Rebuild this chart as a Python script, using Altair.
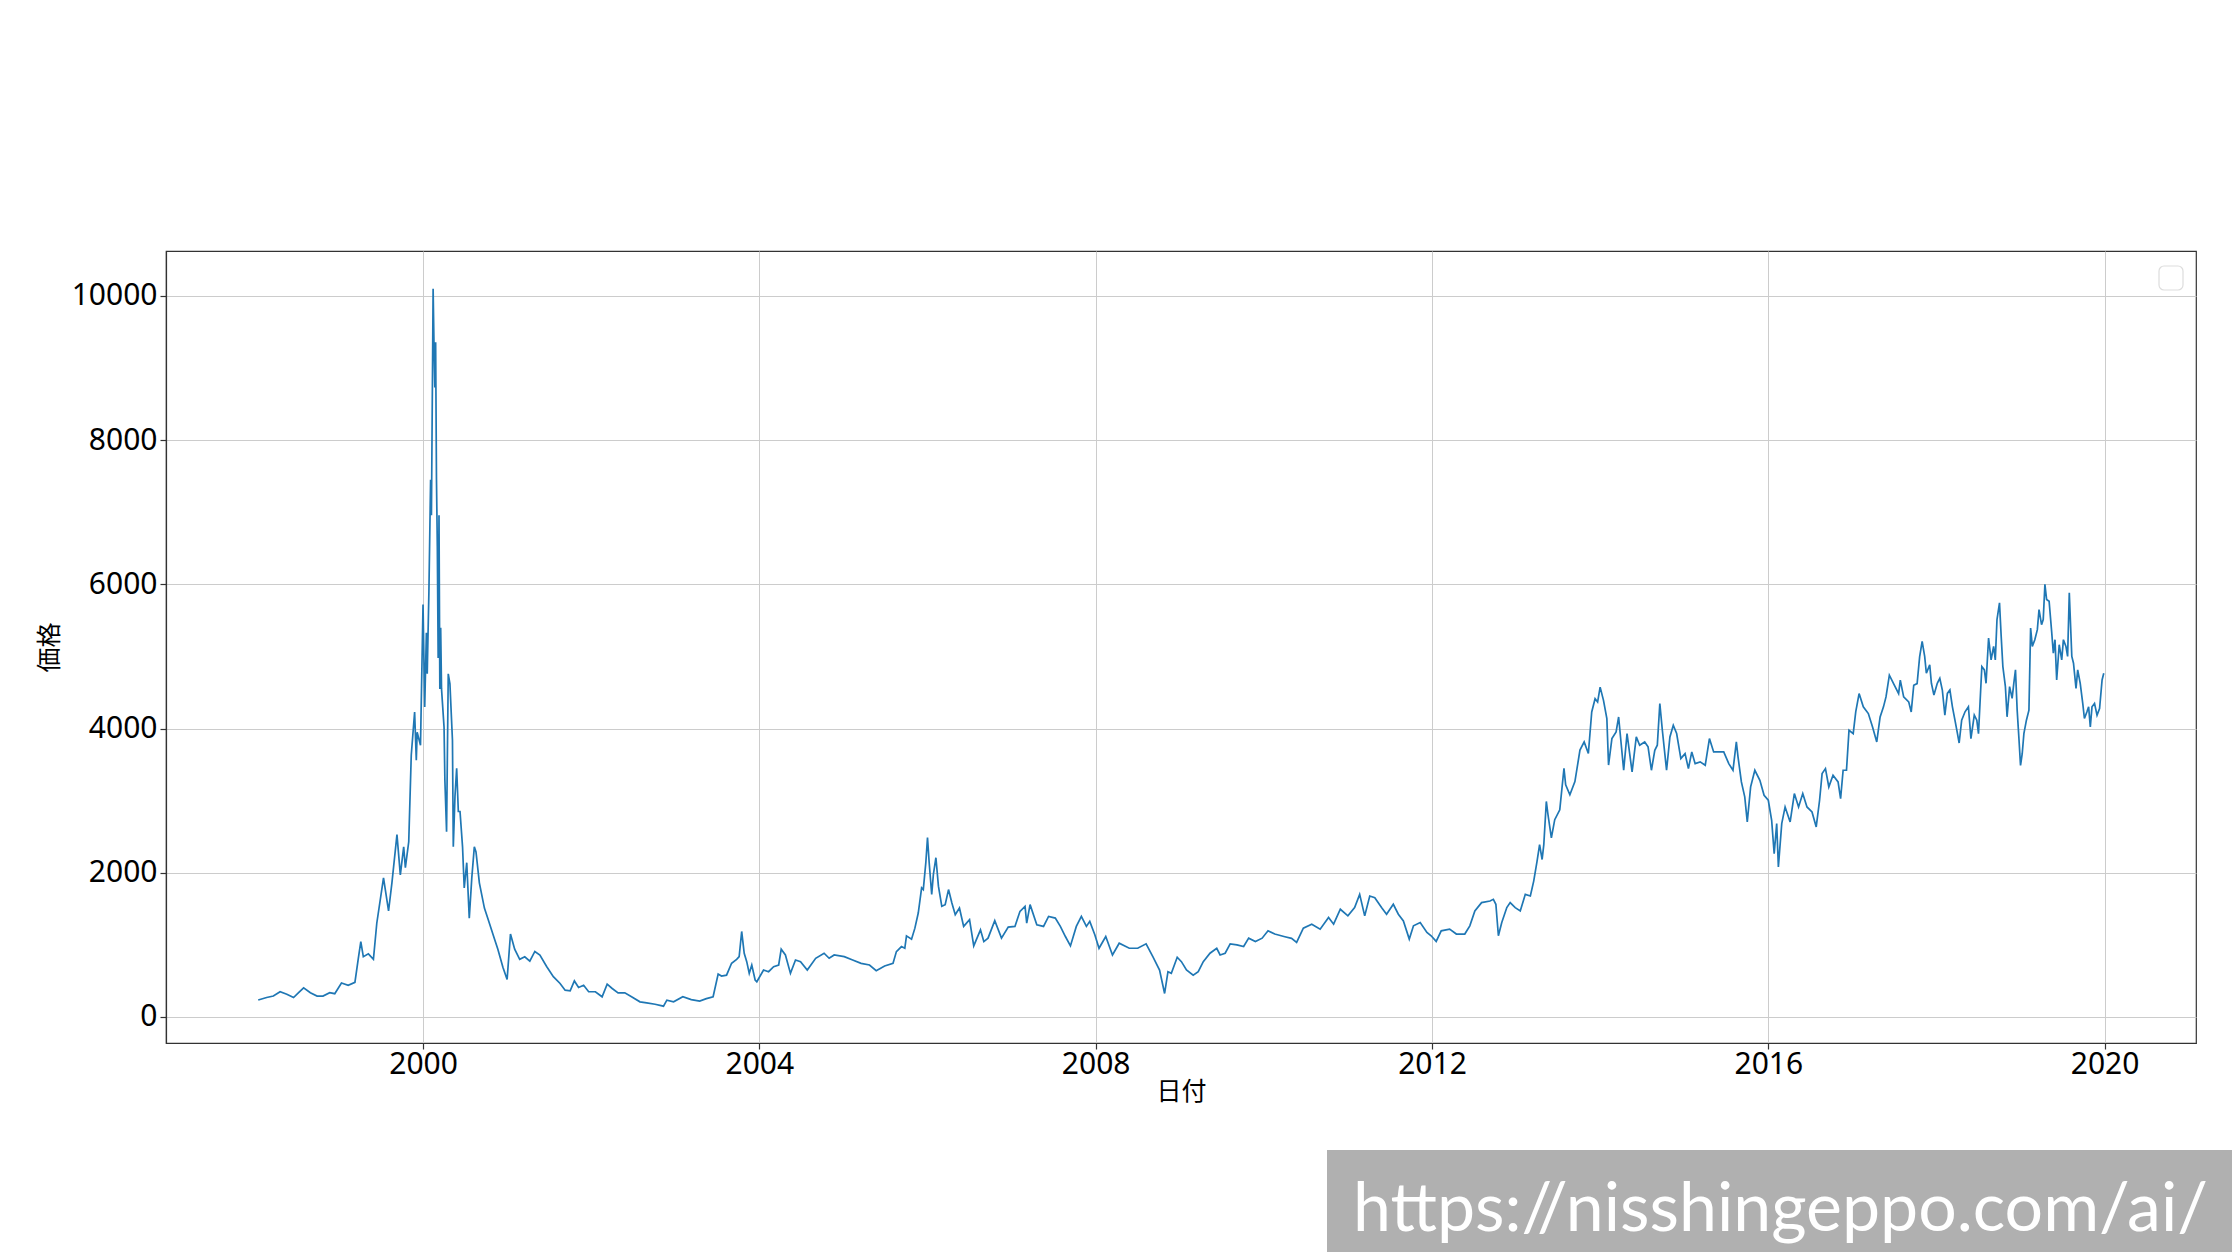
import altair as alt
import pandas as pd

# decimal year of each reading, and the price read at it
years = [
    1998.04, 1998.14, 1998.22, 1998.30, 1998.38, 1998.46, 1998.52, 1998.58, 1998.66, 1998.74,
    1998.81, 1998.89, 1998.95, 1999.03, 1999.11, 1999.19, 1999.23, 1999.26, 1999.29, 1999.35,
    1999.41, 1999.45, 1999.53, 1999.59, 1999.63, 1999.69, 1999.73, 1999.77, 1999.79, 1999.83,
    1999.86, 1999.90, 1999.92, 1999.93, 1999.97, 2000.00, 2000.02, 2000.04, 2000.05, 2000.07,
    2000.09, 2000.10, 2000.12, 2000.13, 2000.14, 2000.15, 2000.16, 2000.17, 2000.18, 2000.19,
    2000.20, 2000.21, 2000.22, 2000.25, 2000.26, 2000.28, 2000.30, 2000.32, 2000.35, 2000.36,
    2000.38, 2000.40, 2000.42, 2000.44, 2000.47, 2000.49, 2000.52, 2000.55, 2000.58, 2000.61,
    2000.63, 2000.67, 2000.73, 2000.77, 2000.85, 2000.89, 2000.95, 2001.00, 2001.04, 2001.09,
    2001.15, 2001.21, 2001.27, 2001.33, 2001.39, 2001.47, 2001.55, 2001.63, 2001.69, 2001.75,
    2001.80, 2001.85, 2001.91, 2001.97, 2002.05, 2002.13, 2002.19, 2002.25, 2002.32, 2002.40,
    2002.48, 2002.58, 2002.66, 2002.76, 2002.86, 2002.90, 2002.98, 2003.09, 2003.19, 2003.29,
    2003.37, 2003.45, 2003.51, 2003.55, 2003.61, 2003.67, 2003.73, 2003.76, 2003.79, 2003.82,
    2003.85, 2003.88, 2003.91, 2003.95, 2003.97, 2004.05, 2004.11, 2004.17, 2004.23, 2004.26,
    2004.31, 2004.37, 2004.43, 2004.49, 2004.57, 2004.67, 2004.77, 2004.83, 2004.89, 2005.01,
    2005.11, 2005.21, 2005.31, 2005.39, 2005.49, 2005.59, 2005.63, 2005.69, 2005.73, 2005.75,
    2005.81, 2005.85, 2005.89, 2005.93, 2005.95, 2005.98, 2006.00, 2006.02, 2006.05, 2006.07,
    2006.10, 2006.13, 2006.17, 2006.21, 2006.25, 2006.29, 2006.33, 2006.38, 2006.43, 2006.50,
    2006.55, 2006.63, 2006.67, 2006.72, 2006.80, 2006.88, 2006.96, 2007.04, 2007.10, 2007.16,
    2007.18, 2007.22, 2007.30, 2007.38, 2007.44, 2007.52, 2007.58, 2007.64, 2007.70, 2007.77,
    2007.83, 2007.89, 2007.93, 2007.99, 2008.04, 2008.12, 2008.20, 2008.28, 2008.40, 2008.50,
    2008.60, 2008.68, 2008.76, 2008.82, 2008.86, 2008.90, 2008.97, 2009.02, 2009.08, 2009.16,
    2009.22, 2009.28, 2009.36, 2009.44, 2009.48, 2009.54, 2009.60, 2009.68, 2009.76, 2009.82,
    2009.90, 2009.98, 2010.05, 2010.13, 2010.25, 2010.33, 2010.39, 2010.47, 2010.57, 2010.67,
    2010.77, 2010.83, 2010.91, 2011.00, 2011.08, 2011.14, 2011.20, 2011.26, 2011.32, 2011.40,
    2011.46, 2011.54, 2011.60, 2011.66, 2011.73, 2011.78, 2011.86, 2011.94, 2011.99, 2012.05,
    2012.11, 2012.21, 2012.29, 2012.39, 2012.45, 2012.51, 2012.59, 2012.69, 2012.73, 2012.76,
    2012.79, 2012.83, 2012.89, 2012.93, 2012.99, 2013.05, 2013.11, 2013.17, 2013.21, 2013.25,
    2013.28, 2013.31, 2013.33, 2013.36, 2013.38, 2013.42, 2013.46, 2013.52, 2013.57, 2013.59,
    2013.64, 2013.70, 2013.76, 2013.81, 2013.86, 2013.90, 2013.94, 2013.97, 2014.00, 2014.04,
    2014.08, 2014.10, 2014.14, 2014.19, 2014.22, 2014.28, 2014.32, 2014.38, 2014.43, 2014.47,
    2014.53, 2014.57, 2014.61, 2014.65, 2014.68, 2014.71, 2014.74, 2014.79, 2014.83, 2014.87,
    2014.91, 2014.96, 2015.01, 2015.05, 2015.09, 2015.13, 2015.19, 2015.25, 2015.30, 2015.35,
    2015.41, 2015.47, 2015.53, 2015.58, 2015.62, 2015.64, 2015.68, 2015.72, 2015.75, 2015.79,
    2015.84, 2015.90, 2015.95, 2016.00, 2016.04, 2016.07, 2016.10, 2016.12, 2016.16, 2016.20,
    2016.26, 2016.31, 2016.36, 2016.41, 2016.46, 2016.52, 2016.57, 2016.61, 2016.64, 2016.68,
    2016.72, 2016.77, 2016.83, 2016.86, 2016.89, 2016.93, 2016.96, 2017.01, 2017.04, 2017.08,
    2017.13, 2017.19, 2017.24, 2017.29, 2017.33, 2017.37, 2017.40, 2017.44, 2017.49, 2017.55,
    2017.57, 2017.61, 2017.67, 2017.70, 2017.73, 2017.77, 2017.80, 2017.83, 2017.86, 2017.88,
    2017.92, 2017.94, 2017.97, 2018.01, 2018.04, 2018.07, 2018.10, 2018.13, 2018.16, 2018.19,
    2018.22, 2018.25, 2018.27, 2018.30, 2018.34, 2018.38, 2018.41, 2018.45, 2018.48, 2018.50,
    2018.54, 2018.57, 2018.59, 2018.62, 2018.65, 2018.68, 2018.70, 2018.72, 2018.75, 2018.77,
    2018.79, 2018.82, 2018.84, 2018.87, 2018.90, 2018.92, 2018.94, 2018.96, 2018.98, 2019.00,
    2019.02, 2019.04, 2019.07, 2019.10, 2019.12, 2019.14, 2019.17, 2019.20, 2019.22, 2019.25,
    2019.27, 2019.29, 2019.31, 2019.34, 2019.37, 2019.39, 2019.41, 2019.43, 2019.46, 2019.49,
    2019.51, 2019.54, 2019.56, 2019.58, 2019.61, 2019.63, 2019.66, 2019.68, 2019.71, 2019.74,
    2019.76, 2019.79, 2019.81, 2019.83, 2019.85, 2019.88, 2019.91, 2019.94, 2019.97, 2019.99,
]

prices = [
    236, 270, 290, 350, 316, 270, 337, 404, 337, 290,
    290, 337, 323, 471, 438, 480, 808, 1044, 835, 875,
    800, 1300, 1930, 1470, 1860, 2530, 1970, 2360, 2070, 2430,
    3630, 4230, 3560, 3950, 3770, 5720, 4300, 5330, 4760, 5900,
    7450, 6960, 10100, 9360, 8730, 9360, 7450, 6530, 4980, 6960,
    4550, 5400, 4550, 4020, 3280, 2570, 4760, 4620, 3840, 2360,
    3060, 3450, 2850, 2850, 2360, 1790, 2140, 1370, 1930, 2360,
    2290, 1860, 1510, 1370, 1080, 940, 690, 520, 1150, 940,
    800, 835, 774, 909, 860, 700, 560, 465, 372, 363,
    500, 410, 440, 350, 350, 280, 455, 395, 335, 335,
    280, 210, 195, 177, 150, 233, 210, 280, 240, 220,
    255, 280, 595, 567, 580, 745, 800, 837, 1186, 884,
    767, 605, 720, 512, 488, 651, 628, 698, 721, 940,
    860, 605, 790, 767, 651, 814, 884, 814, 860, 837,
    790, 744, 721, 642, 707, 744, 907, 977, 953, 1125,
    1079, 1232, 1442, 1790, 1767, 2140, 2488, 2140, 1698, 1977,
    2209, 1814, 1535, 1558, 1767, 1581, 1419, 1512, 1256, 1349,
    986, 1209, 1046, 1093, 1335, 1093, 1246, 1256, 1465, 1535,
    1302, 1558, 1279, 1256, 1395, 1372, 1256, 1116, 986, 1256,
    1395, 1256, 1326, 1140, 953, 1116, 860, 1023, 953, 953,
    1014, 837, 651, 326, 628, 605, 828, 767, 651, 581,
    628, 767, 884, 953, 860, 884, 1014, 1000, 977, 1093,
    1046, 1093, 1195, 1150, 1113, 1090, 1035, 1232, 1287, 1218,
    1379, 1287, 1494, 1402, 1517, 1701, 1402, 1678, 1655, 1517,
    1425, 1563, 1425, 1333, 1080, 1264, 1310, 1172, 1126, 1048,
    1195, 1218, 1150, 1150, 1264, 1471, 1586, 1609, 1632, 1563,
    1126, 1310, 1517, 1586, 1517, 1471, 1701, 1678, 1885, 2161,
    2391, 2184, 2391, 2989, 2805, 2483, 2736, 2874, 3448, 3219,
    3081, 3265, 3701, 3816, 3655, 4230, 4414, 4368, 4575, 4391,
    4138, 3494, 3862, 3954, 4161, 3422, 3931, 3399, 3884, 3769,
    3815, 3746, 3422, 3699, 3769, 4347, 3977, 3422, 3884, 4046,
    3931, 3584, 3653, 3445, 3676, 3514, 3538, 3491, 3861, 3676,
    3676, 3676, 3514, 3422, 3815, 3607, 3260, 3052, 2705, 3191,
    3422, 3283, 3075, 3006, 2728, 2266, 2682, 2081, 2682, 2913,
    2705, 3098, 2913, 3098, 2913, 2844, 2636, 3006, 3376, 3445,
    3191, 3353, 3260, 3029, 3422, 3422, 3977, 3931, 4231, 4486,
    4301, 4208, 4023, 3815, 4162, 4301, 4439, 4740, 4624, 4486,
    4671, 4439, 4370, 4231, 4601, 4624, 4994, 5209, 5000, 4767,
    4884, 4628, 4465, 4628, 4698, 4535, 4186, 4488, 4535, 4302,
    4116, 3930, 3800, 4116, 4233, 4302, 3860, 4186, 4116, 3930,
    4860, 4814, 4628, 5256, 4953, 5140, 4953, 5512, 5744, 5279,
    4860, 4581, 4163, 4581, 4419, 4628, 4814, 4256, 3884, 3488,
    3651, 3930, 4116, 4256, 5395, 5140, 5233, 5372, 5651, 5442,
    5512, 6000, 5791, 5767, 5349, 5047, 5233, 4674, 5163, 4953,
    5233, 5140, 5000, 5884, 5000, 4907, 4558, 4814, 4628, 4349,
    4140, 4233, 4302, 4023, 4302, 4349, 4186, 4279, 4674, 4767,
]

x_ticks = [2000, 2004, 2008, 2012, 2016, 2020]
y_ticks = [0, 2000, 4000, 6000, 8000, 10000]
x_title = "日付"
y_title = "価格"
watermark = "https://nisshingeppo.com/ai/"

df = pd.DataFrame({"year": years, "price": prices})
one = pd.DataFrame({"k": [0]})

JP = "Noto Sans CJK JP"
NUM = "Noto Sans"

line = alt.Chart(df).mark_line(color="#1f77b4", strokeWidth=1.7, clip=True).encode(
    x=alt.X(
        "year:Q",
        scale=alt.Scale(domain=[1996.943, 2021.087], nice=False, zero=False),
        axis=alt.Axis(
            values=x_ticks, format="d", title=x_title,
            tickSize=6, labelPadding=0, titleY=48, titleBaseline="middle",
        ),
    ),
    y=alt.Y(
        "price:Q",
        scale=alt.Scale(domain=[-361, 10624], nice=False, zero=False),
        axis=alt.Axis(
            values=y_ticks, format="d", title=y_title,
            tickSize=6, labelPadding=3, titleX=-117, titleY=396,
            titleAngle=-90, titleAlign="center", titleBaseline="middle",
        ),
    ),
)

legend_box = alt.Chart(one).mark_rect(
    fill="white", stroke="#dddddd", strokeWidth=1.2, cornerRadius=5
).encode(
    x=alt.value(1993), x2=alt.value(2017), y=alt.value(15), y2=alt.value(39)
)

wm_box = alt.Chart(one).mark_rect(color="#b0b0b0").encode(
    x=alt.value(1161), x2=alt.value(2070), y=alt.value(899), y2=alt.value(1005)
)

wm_text = alt.Chart(one).mark_text(
    text=watermark, align="left", baseline="alphabetic",
    font="Lato", fontSize=68, color="white",
).encode(x=alt.value(1187), y=alt.value(980))

chart = alt.layer(line, legend_box, wm_box, wm_text).properties(
    width=2030, height=792,
    autosize=alt.AutoSizeParams(type="none"),
    padding={"left": 158, "top": 243, "right": 36, "bottom": 209},
).configure_view(
    stroke="#333333", strokeWidth=1.2
).configure_axis(
    grid=True, gridColor="#cccccc", gridWidth=1,
    domainColor="#333333", domainWidth=1.2, tickColor="#333333", tickWidth=1.2,
    labelFont=NUM, labelFontSize=30, labelColor="#000000",
    titleFont=JP, titleFontSize=25, titleColor="#000000", titleFontWeight="normal",
)

chart.save("out.html", embed_options={"renderer": "svg", "actions": False})
